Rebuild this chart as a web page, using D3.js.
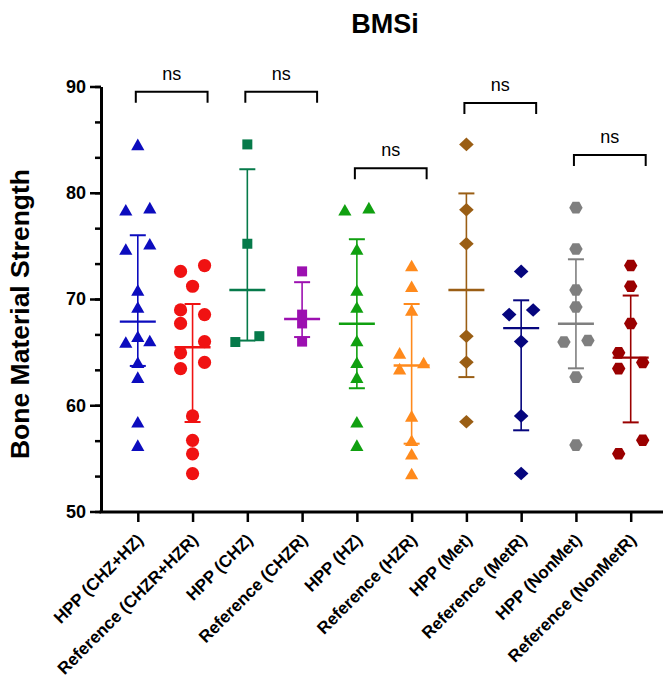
<!DOCTYPE html>
<html>
<head>
<meta charset="UTF-8">
<title>BMSi</title>
<script src="https://cdn.jsdelivr.net/npm/d3@7"></script>
<style>
body { margin: 0; background: #fff; }
text { font-family: Arial, "Liberation Sans", sans-serif; }
</style>
</head>
<body>
<div id="chart"></div>
<script>

// values
var categories = ["HPP (CHZ+HZ)", "Reference (CHZR+HZR)", "HPP (CHZ)", "Reference (CHZR)",
                  "HPP (HZ)", "Reference (HZR)", "HPP (Met)", "Reference (MetR)",
                  "HPP (NonMet)", "Reference (NonMetR)"]

var hppAll     = [84.55, 78.4, 78.6, 75.2, 74.7, 70.85, 69.25, 66.5, 66.1, 65.95, 64.05, 62.65, 58.45, 56.25]
var refAll     = [73.15, 72.6, 71.2, 68.97, 68.53, 67.7, 65.99, 64.93, 64.03, 63.45, 59.0, 56.7, 55.43, 53.57]
var hppCHZ     = [84.55, 75.2, 66.5, 65.95]
var refCHZR    = [72.6, 68.53, 67.7, 65.99]
var hppHZ      = [78.4, 78.6, 74.7, 70.85, 69.25, 66.1, 64.05, 62.65, 58.45, 56.25]
var refHZR     = [73.15, 71.2, 68.97, 64.93, 64.03, 63.45, 59.0, 56.7, 55.43, 53.57]
var hppMet     = [84.55, 78.4, 75.2, 66.5, 64.05, 58.45]
var refMetR    = [72.6, 68.97, 68.53, 65.99, 59.0, 53.57]
var hppNonMet  = [78.6, 74.7, 70.85, 69.25, 66.1, 65.95, 62.65, 56.25]
var refNonMetR = [73.15, 71.2, 67.7, 64.93, 64.03, 63.45, 56.7, 55.43]

var series = [hppAll, refAll, hppCHZ, refCHZR, hppHZ, refHZR, hppMet, refMetR, hppNonMet, refNonMetR]

// pairwise comparisons: column pair, bracket level, label
var comparisons = [[0, 1], [2, 3], [4, 5], [6, 7], [8, 9]]
var compLevels  = [89.5, 89.5, 82.3, 88.45, 83.55]
var compLabels  = ["ns", "ns", "ns", "ns", "ns"]

var yTicks = [50, 60, 70, 80, 90]

// look of each column
var colors = ["#0c0cbe", "#f01212", "#067a4a", "#9c10b0", "#10a010",
              "#ff8a1c", "#9a5e14", "#06067e", "#7f7f7f", "#9a0000"]
var shapes = ["triangle", "circle", "square", "square", "triangle",
              "triangle", "diamond", "diamond", "hexagon", "hexagon"]

var width  = 665
var height = 682

var svg = d3.select("#chart").append("svg")
	.attr("width", width)
	.attr("height", height)

svg.append("rect").attr("width", width).attr("height", height).attr("fill", "#fff")

var y = d3.scaleLinear().domain([50, 90]).range([511.5, 86.5])
var x = d3.scalePoint().domain(categories).range([137.8, 630.7])

var axisX = 101
var axisY = 512

// marker outlines, centred on the point
var shapePaths = {
	triangle: "M0,-5.8L6.6,5.8L-6.6,5.8Z",
	circle:   d3.symbol(d3.symbolCircle, Math.PI * 6.6 * 6.6)(),
	square:   "M-5,-5h10v10h-10Z",
	diamond:  "M0,-6.8L7.3,0L0,6.8L-7.3,0Z",
	hexagon:  "M6.7,0L3.35,5.8L-3.35,5.8L-6.7,0L-3.35,-5.8L3.35,-5.8Z"
}
// vertical distance under which points get pushed sideways
var shapeGap = { triangle: 13, circle: 13, square: 8, diamond: 13, hexagon: 14 }

// GraphPad style quartiles ((n+1)p)
function quart(sorted, p) {
	var n = sorted.length
	var pos = (n + 1) * p
	var lo = Math.floor(pos)
	if (lo < 1) return sorted[0]
	if (lo >= n) return sorted[n - 1]
	return sorted[lo - 1] + (pos - lo) * (sorted[lo] - sorted[lo - 1])
}

// spread close points left / right
function spread(vals, gap, step) {
	var order = d3.range(vals.length).sort(function(a, b) { return vals[a] - vals[b] })
	var off = vals.map(function() { return 0 })
	var chains = [], cur = [order[0]]
	for (var k = 1; k < order.length; k++) {
		if (y(vals[order[k - 1]]) - y(vals[order[k]]) < gap) cur.push(order[k])
		else { chains.push(cur); cur = [order[k]] }
	}
	chains.push(cur)
	chains.forEach(function(ch) {
		if (ch.length < 2) return
		var placed = []
		ch.forEach(function(i, k) {
			var o = (k % 2 === 0) ? -step : step
			var hit = placed.some(function(p) {
				return off[p] === o && Math.abs(y(vals[p]) - y(vals[i])) < gap
			})
			if (hit) o = 0
			off[i] = o
			placed.push(i)
		})
	})
	return off
}

// title
svg.append("text")
	.attr("x", 385).attr("y", 33)
	.attr("text-anchor", "middle")
	.attr("font-size", 27).attr("font-weight", "bold")
	.text("BMSi")

// y axis title
svg.append("text")
	.attr("transform", "translate(29,314) rotate(-90)")
	.attr("text-anchor", "middle")
	.attr("font-size", 26.5).attr("font-weight", "bold")
	.text("Bone Material Strength")

// y axis, major + minor ticks
var gy = svg.append("g").attr("transform", "translate(" + axisX + ",0)")
gy.call(d3.axisLeft(y).tickValues(d3.range(50, 90.01, 10 / 3)).tickSize(6).tickSizeOuter(0).tickFormat(""))
gy.append("g").call(d3.axisLeft(y).tickValues(yTicks).tickSize(11).tickSizeOuter(0).tickPadding(4))
gy.selectAll("path.domain").attr("stroke-width", 3)
gy.selectAll(".tick line").attr("stroke-width", 2.5)
gy.selectAll(".tick text")
	.attr("font-size", 18).attr("font-weight", "bold")
	.attr("font-family", "Arial, 'Liberation Sans', sans-serif")
	.attr("fill", "#000")

// x axis
var gx = svg.append("g").attr("transform", "translate(0," + axisY + ")")
gx.call(d3.axisBottom(x).tickSize(10).tickSizeOuter(0))
gx.select("path.domain").remove()
gx.append("line").attr("x1", axisX - 1.5).attr("x2", 663)
	.attr("stroke", "#000").attr("stroke-width", 3)
gx.selectAll(".tick line").attr("stroke-width", 2.5)
gx.selectAll(".tick text")
	.attr("x", 6).attr("y", 29).attr("dy", 0)
	.attr("text-anchor", "end")
	.attr("transform", "rotate(-45 6 29)")
	.attr("font-size", 17).attr("font-weight", "bold")
	.attr("font-family", "Arial, 'Liberation Sans', sans-serif")
	.attr("fill", "#000")

// columns
series.forEach(function(vals, c) {
	var cx = x(categories[c])
	var col = colors[c]
	var offs = spread(vals, shapeGap[shapes[c]], 12)
	var g = svg.append("g").attr("class", "column")

	g.selectAll("path.pt")
		.data(vals).enter()
		.append("path")
		.attr("class", "pt")
		.attr("d", shapePaths[shapes[c]])
		.attr("fill", col)
		.attr("transform", function(d, i) { return "translate(" + (cx + offs[i]) + "," + y(d) + ")" })

	var s = vals.slice().sort(d3.ascending)
	var med = quart(s, 0.5), q1 = quart(s, 0.25), q3 = quart(s, 0.75)

	g.append("line")
		.attr("x1", cx).attr("x2", cx).attr("y1", y(q1)).attr("y2", y(q3))
		.attr("stroke", col).attr("stroke-width", 1.6)
	;[q1, q3].forEach(function(q) {
		g.append("line")
			.attr("x1", cx - 8).attr("x2", cx + 8).attr("y1", y(q)).attr("y2", y(q))
			.attr("stroke", col).attr("stroke-width", 2)
	})
	g.append("line")
		.attr("x1", cx - 18).attr("x2", cx + 18).attr("y1", y(med)).attr("y2", y(med))
		.attr("stroke", col).attr("stroke-width", 2.4)
})

// significance brackets
comparisons.forEach(function(pair, i) {
	var x1 = x(categories[pair[0]]) - 2
	var x2 = x(categories[pair[1]]) + 15
	var by = y(compLevels[i])
	svg.append("path")
		.attr("d", "M" + x1 + "," + (by + 11) + "V" + by + "H" + x2 + "V" + (by + 11))
		.attr("fill", "none").attr("stroke", "#000").attr("stroke-width", 2)
	svg.append("text")
		.attr("x", (x1 + x2) / 2).attr("y", by - 12)
		.attr("text-anchor", "middle")
		.attr("font-size", 18)
		.text(compLabels[i])
})

</script>
</body>
</html>
